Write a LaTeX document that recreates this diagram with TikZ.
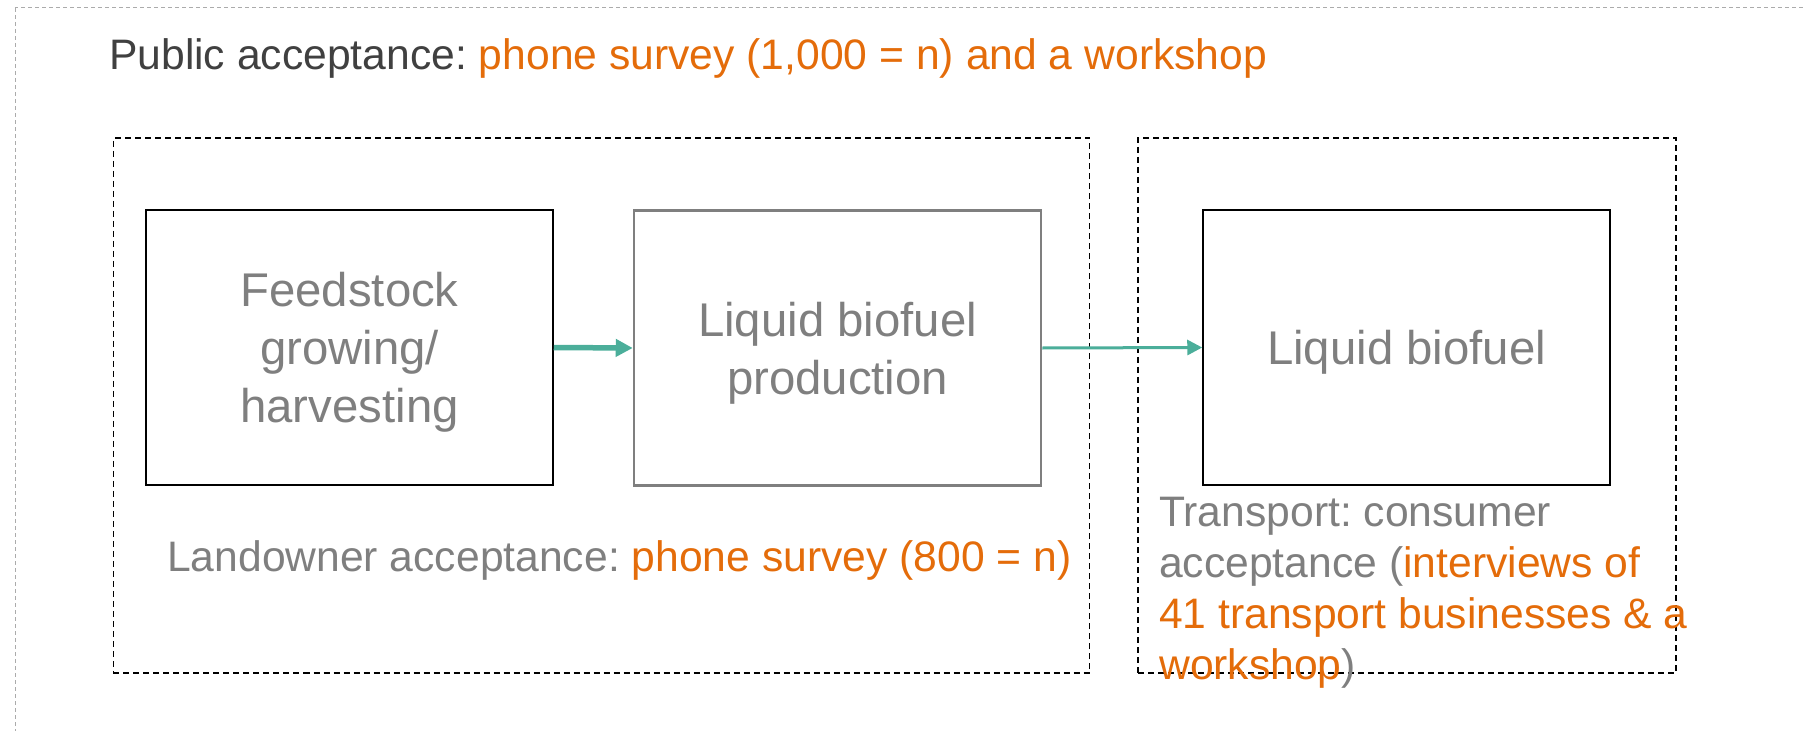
\documentclass[tikz,border=0pt]{standalone}
\usepackage{fontspec}
\setmainfont{Liberation Sans}
\usetikzlibrary{arrows.meta}
\frenchspacing
\definecolor{txtgray}{HTML}{7F7F7F}
\definecolor{darkgray}{HTML}{404040}
\definecolor{orng}{HTML}{E46C0A}
\definecolor{teal}{HTML}{4BAE9A}
\definecolor{framegray}{HTML}{ABABAB}
\newcommand{\nodepth}[1]{\raisebox{0pt}[\height][0pt]{#1}}
\tikzset{
  procbox/.style={draw=black, line width=1.5bp, minimum width=407bp, minimum height=275bp,
    align=center, text=txtgray, inner sep=0pt,
    font=\fontsize{47.5}{58}\selectfont},
  groupbox/.style={draw=black, line width=1.6bp, dash pattern=on 6bp off 4bp, inner sep=0pt},
  label/.style={inner sep=0pt, text=txtgray, font=\fontsize{42.8}{51}\selectfont},
  flowthick/.style={draw=teal, line width=5.5bp, -{Triangle[length=17bp,width=17bp]}},
  flowthin/.style={draw=teal, line width=3bp, -{Triangle[length=15bp,width=15bp]}},
}
\begin{document}
\begin{tikzpicture}[x=1bp,y=-1bp]
\useasboundingbox (0,0) rectangle (1803,731);
% outer frame
\draw[framegray, line width=1bp, dash pattern=on 4bp off 3bp] (15,8) rectangle (1830,760);
% group boxes
\node[groupbox, minimum width=976bp, minimum height=535bp] (grp1) at (601.5,405.5) {};
\node[groupbox, minimum width=538bp, minimum height=535bp] (grp2) at (1407,405.5) {};
% process boxes
\node[procbox] (feed) at (349.5,347.5) {Feedstock\\growing/\\\nodepth{harvesting}};
\node[procbox, draw=txtgray, line width=2.5bp] (prod) at (837.5,348) {Liquid biofuel\\\nodepth{production}};
\node[procbox] (fuel) at (1406.5,347.5) {\nodepth{Liquid biofuel}};
% connectors
\draw[flowthick] (feed.east) -- (prod.west);
\draw[flowthin] (prod.east) -- (fuel.west);
% labels
\node[label, anchor=base west, text=darkgray] (title) at (109,70)
  {Public acceptance: \textcolor{orng}{phone survey (1,000 = n) and a workshop}};
\node[label, anchor=base west] (land) at (167,571)
  {Landowner acceptance: \textcolor{orng}{phone survey (800 = n)}};
\node[label, anchor=base west] (trans) at (1159,526)
  {\vtop{\baselineskip=51bp
    \hbox{Transport: consumer}
    \hbox{acceptance (\textcolor{orng}{interviews of}}
    \hbox{\textcolor{orng}{41 transport businesses \& a}}
    \hbox{\textcolor{orng}{workshop})}}};
\end{tikzpicture}
\end{document}
